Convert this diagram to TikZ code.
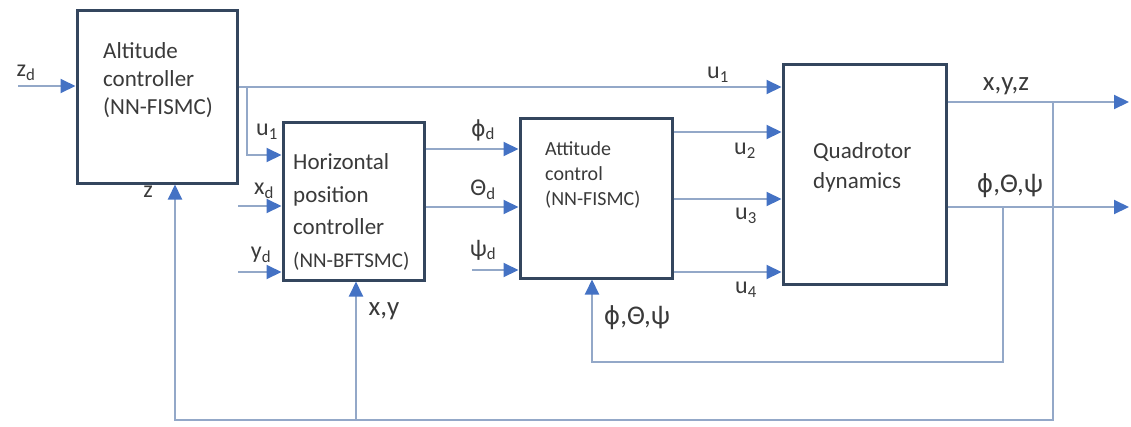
\documentclass[tikz,border=0pt]{standalone}
\usepackage{fontspec}
\setmainfont{Carlito}
\newfontfamily\phifont{DejaVu Sans}
\usetikzlibrary{arrows.meta}
\definecolor{boxc}{HTML}{34465E}
\definecolor{linec}{HTML}{93A8C8}
\definecolor{tipc}{HTML}{4472C4}
\definecolor{txtc}{HTML}{3A3A3A}
\newcommand{\phisym}{{\phifont\scalebox{0.92}{ϕ}}}
\tikzset{
  blk/.style={draw=boxc, line width=3pt, fill=white, inner sep=0pt},
  boxtxt/.style={text=txtc, align=left, inner sep=0pt, anchor=west},
  sig/.style={draw=linec, line width=2pt},
  sigarr/.style={sig, -{Triangle[length=15pt,width=14pt,color=tipc]}},
  lab/.style={text=txtc, inner sep=0pt, font=\fontsize{24}{28}\selectfont},
  biglab/.style={text=txtc, inner sep=0pt, font=\fontsize{27}{30}\selectfont}
}
\begin{document}
\begin{tikzpicture}[x=1pt,y=-1pt]
\useasboundingbox (0,0) rectangle (1131,426);

% blocks
\node[blk, minimum width=160pt, minimum height=173pt] (alt) at (157,96.5) {};
\node[blk, minimum width=141pt, minimum height=158pt] (hor) at (353.5,201) {};
\node[blk, minimum width=152pt, minimum height=160pt] (att) at (596,198) {};
\node[blk, minimum width=163pt, minimum height=220pt] (quad) at (864.5,174) {};

% block texts
\node[boxtxt, font=\fontsize{23}{28}\selectfont] (alttxt) at (103,80)
  {Altitude\\controller\\(NN-FISMC)};
\node[boxtxt, font=\fontsize{23}{32.5}\selectfont] (hortxt) at (293,212)
  {Horizontal\\position\\controller\\{\fontsize{21}{32.5}\selectfont(NN-BFTSMC)}};
\node[boxtxt, font=\fontsize{20}{25}\selectfont] (atttxt) at (545,175)
  {Attitude\\control\\(NN-FISMC)};
\node[boxtxt, font=\fontsize{23}{30}\selectfont] (quadtxt) at (813,167)
  {Quadrotor\\dynamics};

% junctions and free ends
\coordinate (zdin) at (18,86);
\coordinate (u1j) at (247,87);
\coordinate (u1b) at (247,155);
\coordinate (xdin) at (238,206);
\coordinate (ydin) at (238,272);
\coordinate (phiy) at (0,149);
\coordinate (thy) at (0,207);
\coordinate (psiin) at (472,270);
\coordinate (u2y) at (0,132);
\coordinate (u3y) at (0,199);
\coordinate (u4y) at (0,272);
\coordinate (xyzj) at (1053,102);
\coordinate (xyzout) at (1129,102);
\coordinate (angj) at (1003,207);
\coordinate (angout) at (1129,207);
\coordinate (fbr) at (1053,420);
\coordinate (fbl) at (175,420);
\coordinate (fbx) at (356,420);
\coordinate (ibr) at (1003,362);
\coordinate (ibl) at (592,362);

% forward signals
\draw[sigarr] (zdin) -- (zdin -| alt.west);
\draw[sigarr] (alt.east |- u1j) -- (quad.west |- u1j);
\draw[sigarr] (u1j) -- (u1b) -- (u1b -| hor.west);
\draw[sigarr] (xdin) -- (xdin -| hor.west);
\draw[sigarr] (ydin) -- (ydin -| hor.west);
\draw[sigarr] (hor.east |- phiy) -- (att.west |- phiy);
\draw[sigarr] (hor.east |- thy) -- (att.west |- thy);
\draw[sigarr] (psiin) -- (psiin -| att.west);
\draw[sigarr] (att.east |- u2y) -- (quad.west |- u2y);
\draw[sigarr] (att.east |- u3y) -- (quad.west |- u3y);
\draw[sigarr] (att.east |- u4y) -- (quad.west |- u4y);
\draw[sigarr] (quad.east |- xyzj) -- (xyzout);
\draw[sigarr] (quad.east |- angj) -- (angout);

% feedback loops
\draw[sigarr] (xyzj) -- (fbr) -- (fbl) -- (fbl |- alt.south);
\draw[sigarr] (fbx) -- (fbx |- hor.south);
\draw[sigarr] (angj) -- (ibr) -- (ibl) -- (ibl |- att.south);

% signal labels
\node[lab] (lzd) at (26,73) {z\textsubscript{d}};
\node[lab] (lu1a) at (718,75) {u\textsubscript{1}};
\node[lab] (lu1b) at (267,132) {u\textsubscript{1}};
\node[lab] (lz) at (148,192) {z};
\node[lab] (lxd) at (264,191) {x\textsubscript{d}};
\node[lab] (lyd) at (261,255) {y\textsubscript{d}};
\node[lab] (lphid) at (483,130) {\phisym\textsubscript{d}};
\node[lab] (lthd) at (483,190) {Θ\textsubscript{d}};
\node[lab] (lpsid) at (483,250) {ψ\textsubscript{d}};
\node[lab] (lu2) at (745,151) {u\textsubscript{2}};
\node[lab] (lu3) at (746,216) {u\textsubscript{3}};
\node[lab] (lu4) at (746,290) {u\textsubscript{4}};
\node[biglab] (lxyz) at (1006,86) {x,y,z};
\node[biglab] (langr) at (1010,186) {\phisym,Θ,ψ};
\node[biglab] (lxy) at (384,311) {x,y};
\node[biglab] (langb) at (637,318) {\phisym,Θ,ψ};
\end{tikzpicture}
\end{document}
